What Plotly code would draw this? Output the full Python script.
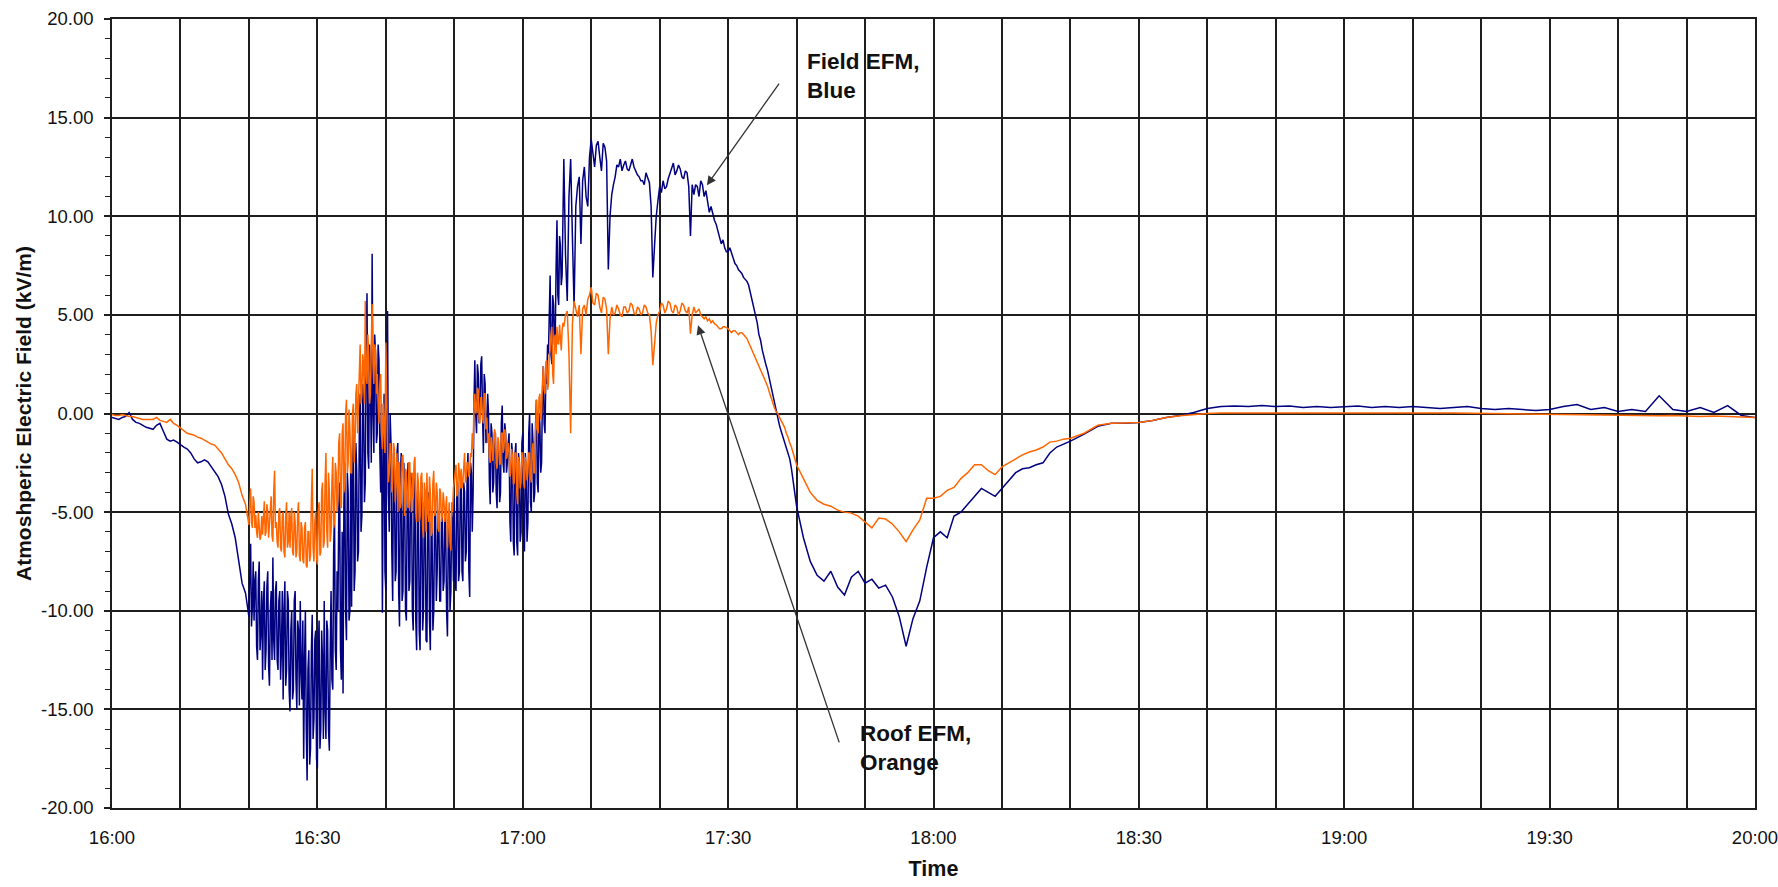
import numpy as np
import pandas as pd
import plotly.graph_objects as go

# readings in kV/m, time in minutes after 16:00
# Field EFM (blue)
field_a = [-0.2, -0.25, -0.3, -0.2, -0.15, 0.05, -0.3, -0.45, -0.5, -0.6,
           -0.7, -0.75, -0.8, -0.6, -0.5, -0.9, -1.3, -1.4, -1.35, -1.45,
           -1.6, -1.7, -1.8, -2.0, -2.3, -2.5, -2.45, -2.35, -2.45, -2.7,
           -3.0, -3.2, -3.6, -4.2, -5.1, -5.6, -6.3, -7.4, -8.6, -9.1]
field_b = [-10.3, -8.0, -6.6, -10.8, -9.8, -7.5, -10.5, -8.5,
           -8.0, -11.8, -12.5, -8.5, -7.5, -12.0, -11.0, -9.0,
           -13.5, -9.5, -8.5, -13.0, -12.0, -8.8, -8.0, -12.8,
           -13.8, -10.0, -9.0, -12.5, -7.3, -11.5, -12.5, -9.0,
           -8.5, -12.5, -13.0, -9.5, -9.0, -13.5, -12.0, -9.0,
           -14.5, -10.0, -8.5, -13.8, -13.0, -9.0, -9.5, -14.0,
           -15.1, -11.0, -10.0, -14.5, -14.0, -9.5, -9.0, -13.5,
           -15.0, -10.5, -11.0, -14.8, -9.5, -13.0, -14.5, -10.5,
           -17.5, -12.5, -10.0, -16.0, -18.6, -13.0, -12.0, -17.8,
           -17.0, -12.0, -10.2, -16.5, -15.5, -11.5, -11.0, -17.5,
           -18.0, -12.0, -10.5, -17.0, -16.0, -11.0, -12.5, -16.5,
           -9.5, -15.0, -16.5, -10.5, -11.0, -16.0, -17.1, -12.0,
           -9.0, -13.5, -14.0, -7.0, -5.0, -12.0, -13.0, -8.0,
           -10.0, -5.0, -3.5, -12.0, -13.5, -6.0, -14.2, -4.5,
           -2.5, -10.0, -11.5, -3.0, -4.0, -10.5, -10.0, -2.0,
           -9.8, -3.0, -1.0, -9.0, -8.0, -1.5, -3.0, -7.5,
           -7.0, -1.0, 1.0, -6.0, -5.2, 1.5, 0.5, -4.5,
           -3.5, 3.0, 6.1, -2.0, -2.8, 3.5, 2.0, -2.5,
           8.1, 0.0, -2.0, 4.0, 3.0, -1.5, -1.0, 3.5,
           2.7, -2.0, -4.0, 0.5, -10.1, -3.0, 1.0, -8.0,
           -9.0, -2.0, 5.2, -4.0, -6.0, 0.0, -1.5, -7.0,
           -9.5, -2.0, -3.0, -8.5, -8.0, -2.0, -1.5, -9.0,
           -10.8, -3.0, -2.0, -9.5, -9.0, -2.5, -4.0, -10.0,
           -10.5, -4.0, -2.5, -9.0, -8.5, -3.0, -3.5, -10.0,
           -11.0, -4.5, -3.0, -10.5, -12.0, -4.0, -4.0, -11.0,
           -12.0, -5.0, -3.5, -11.0, -10.0, -4.5, -5.0, -11.5,
           -11.6, -5.0, -4.0, -10.5, -12.0, -5.5, -6.0, -11.0,
           -10.0, -5.0, -4.5, -9.5, -8.0, -5.0, -5.5, -9.5,
           -9.5, -5.5, -5.0, -9.0, -8.5, -5.0, -6.0, -10.0,
           -11.3, -6.0, -5.0, -10.0, -9.0, -5.0, -5.5, -8.5,
           -4.3, -8.5, -9.0, -4.0, -3.5, -8.5, -8.0, -4.0,
           -3.0, -8.0, -8.5, -3.5, -4.0, -7.5, -7.0, -3.0,
           -2.0, -8.0, -9.3, -2.5, -3.0, -6.0, -4.0, 0.5,
           2.7, 0.0, -1.0, 2.5, 2.0, -0.5, 0.0, 2.5,
           2.9, 0.0, -2.0, 2.0, 1.5, -1.5, -1.0, 1.0,
           0.0, -3.5, -4.6, -0.5, -1.0, -4.0, -3.5, -1.0,
           -1.0, -4.0, -4.8, -1.5, -2.0, -4.5, -4.0, -0.5,
           0.4, -2.5, -3.0, -0.5, -1.0, -3.0, -2.5, -1.5,
           -1.0, -5.5, -6.5, -1.5, -2.0, -6.5, -7.2, -2.0,
           -1.5, -6.5, -7.2, -2.0, -2.5, -6.5, -6.0, -1.5,
           -1.0, -6.0, -7.0, -2.0, -3.0, -6.5, -5.5, -1.0,
           0.0, -4.5, -5.0, -0.5, -1.5, -4.5, -4.0, -0.5,
           0.7, -3.5, -4.0, 0.0, -0.5, -3.0, -2.5, 1.0,
           2.4, -0.5, -1.0, 2.0, 1.5, 3.5, 3.0, 5.0,
           7.0, 3.0, 2.5, 6.0, 5.5, 3.5, 4.0, 7.5,
           9.8, 6.0, 5.5, 9.0, 8.5, 6.5, 7.0, 10.0]
field_c = [12.9, 8.0, 5.7, 11.0, 12.9, 9.0, 5.4, 10.5, 11.5, 12.0,
           8.6, 11.8, 12.5, 11.0, 10.5, 13.0, 13.9, 13.2, 12.5, 13.6,
           13.8, 13.0, 12.3, 13.7, 13.5, 12.8, 7.3, 10.0, 11.1, 11.6,
           12.0, 12.6, 12.5, 12.9, 12.3, 12.6, 12.8, 12.4, 12.3, 12.6,
           12.9, 12.5, 12.3, 12.1, 12.0, 11.8, 11.8, 11.6, 12.2, 11.9,
           11.7, 10.5, 6.9, 8.5, 10.0, 10.8, 11.5, 11.2, 11.8, 11.4,
           11.5, 11.9, 12.2, 12.5, 12.7, 12.1, 12.3, 12.6, 12.4, 12.0,
           11.9, 12.3, 12.2, 11.5, 9.0, 11.6, 11.1, 11.6, 11.5, 11.0,
           11.8, 11.6, 11.0, 11.3, 10.8, 10.2, 10.5, 10.1, 9.8, 9.6,
           9.3, 8.9, 8.6, 8.8, 8.4, 8.2, 8.2, 8.4, 8.1, 7.8,
           7.6, 7.5, 7.3, 7.2, 7.1, 6.9, 6.8, 6.7, 6.5, 6.1,
           5.8, 5.4, 5.0, 4.6, 4.0, 3.7, 3.2, 2.8, 2.5, 2.2,
           1.8, 1.3, 0.9, 0.6, 0.2, -0.2, -0.6, -0.9, -1.2, -1.4,
           -1.7, -2.0, -2.3, -2.8, -3.5, -4.0]
field_d = [-4.7, -6.3, -7.5, -8.2, -8.5, -8.0, -8.8, -9.2, -8.3, -8.0,
           -8.6, -8.4, -8.85, -8.7, -9.3, -10.3, -11.8, -10.4, -9.5, -7.8,
           -6.3, -6.0, -6.3, -5.2, -5.0, -4.6, -4.2, -3.8, -4.0, -4.2,
           -3.8, -3.4, -3.0, -2.8, -2.75, -2.6, -2.5, -2.0, -1.7, -1.55,
           -1.4]
field_e = [-1.05, -0.65, -0.5, -0.5, -0.45, -0.35, -0.2, -0.1, 0.05, 0.25,
           0.35, 0.38, 0.35, 0.4, 0.35, 0.38, 0.3, 0.35, 0.3, 0.35,
           0.38, 0.3, 0.35, 0.3, 0.35, 0.3, 0.25, 0.3, 0.35, 0.25,
           0.2, 0.25, 0.2, 0.15, 0.2, 0.35, 0.45, 0.2, 0.3, 0.1,
           0.2, 0.1, 0.9, 0.2, 0.1, 0.3, 0.05, 0.4, -0.1, -0.2]

# Roof EFM (orange)
roof_a = [-0.05, -0.1, -0.1, -0.05, -0.1, -0.15, -0.15, -0.2, -0.25, -0.3,
          -0.3, -0.3, -0.3, -0.2, -0.35, -0.4, -0.45, -0.3, -0.5, -0.6,
          -0.75, -0.9, -1.0, -1.05, -1.1, -1.2, -1.25, -1.35, -1.45, -1.55,
          -1.6, -1.8, -2.0, -2.3, -2.6, -2.8, -3.1, -3.5, -4.15, -4.6]
roof_b = [-5.65, -4.5, -3.8, -5.5, -5.8, -4.2, -4.5, -5.8,
          -5.15, -6.0, -6.3, -5.0, -5.5, -6.4, -6.2, -5.2,
          -6.15, -5.0, -4.45, -6.2, -6.0, -4.6, -5.0, -6.3,
          -5.5, -4.5, -4.2, -6.2, -6.5, -4.0, -2.9, -5.8,
          -5.5, -6.5, -6.8, -5.0, -4.8, -6.8, -7.0, -5.2,
          -5.0, -7.0, -7.3, -5.2, -4.5, -6.8, -6.5, -5.0,
          -6.8, -5.2, -4.8, -7.0, -7.2, -5.0, -5.5, -7.3,
          -7.0, -5.0, -4.5, -7.2, -7.5, -5.5, -5.8, -7.4,
          -7.6, -5.8, -5.5, -7.7, -7.8, -6.0, -6.0, -7.5,
          -7.2, -4.5, -2.8, -6.8, -7.5, -5.5, -5.0, -7.3,
          -7.65, -5.0, -4.5, -7.2, -7.0, -4.0, -3.5, -6.8,
          -6.5, -3.5, -2.0, -6.0, -6.8, -3.0, -4.0, -6.5,
          -6.0, -3.5, -2.2, -5.8, -5.5, -2.5, -3.0, -5.0,
          -4.0, -1.5, -1.0, -4.5, -4.8, -1.0, -0.5, -4.0,
          -3.5, 0.0, 0.7, -3.0, -2.5, 0.2, -0.8, -3.0,
          -3.0, 0.0, 0.5, -2.5, -1.5, 1.0, 1.5, -1.0,
          0.7, 3.0, 3.5, 0.5, 1.0, 3.0, 2.5, 0.5,
          5.7, 2.0, 1.5, 4.0, 3.0, 0.5, 1.0, 3.5,
          5.55, 2.5, 1.5, 3.5, 3.2, 1.0, 2.0, 0.5,
          -0.5, 1.5, 2.0, -1.0, -1.8, 0.5, -0.5, -2.0,
          3.6, -1.0, -1.8, -3.5, -3.0, -1.5, -2.0, -4.0,
          -3.5, -1.5, -1.8, -4.5, -3.0, -2.0, -5.0, -2.5,
          -2.5, -4.8, -4.5, -2.2, -2.1, -4.5, -5.2, -2.8,
          -3.0, -4.5, -4.8, -2.5, -2.5, -4.2, -5.0, -3.0,
          -4.3, -2.5, -2.2, -5.0, -5.5, -3.0, -3.5, -5.5,
          -5.2, -3.2, -3.0, -5.8, -6.3, -3.5, -4.0, -6.0,
          -3.0, -5.0, -5.5, -3.2, -4.0, -6.2, -6.0, -3.5,
          -2.9, -5.2, -5.0, -3.5, -4.0, -5.8, -6.0, -3.8,
          -4.0, -5.5, -5.2, -4.0, -4.5, -5.5, -5.0, -4.2,
          -6.8, -4.8, -4.5, -6.5, -6.95, -4.5, -5.0, -3.8,
          -3.5, -3.0, -2.6, -4.2, -4.0, -2.5, -3.0, -3.8,
          -2.8, -3.8, -3.5, -2.2, -2.0, -3.5, -3.2, -2.5,
          -2.5, -3.2, -3.0, -2.0, -2.2, -1.0, -1.8, 0.5,
          1.0, 0.0, 0.2, 1.3, 1.2, -0.2, -0.5, 0.8,
          0.8, -0.2, -0.5, 1.0, 1.0, -0.8, -0.2, -1.5,
          -1.0, -2.2, -2.5, -1.2, -1.5, -2.4, -2.0, -0.8,
          -1.0, -2.5, -2.8, -1.2, -1.5, -2.6, -2.5, -1.0,
          -1.0, -2.0, -1.8, -0.8, -1.2, -2.3, -2.1, -1.5,
          -1.8, -3.2, -3.0, -1.8, -2.2, -3.6, -3.5, -2.0,
          -2.0, -4.0, -4.6, -2.2, -2.5, -3.8, -3.5, -2.0,
          -2.0, -3.5, -3.8, -2.2, -2.5, -3.4, -3.0, -2.0,
          -2.0, -3.2, -3.5, -1.8, -1.5, -3.0, -3.0, -1.0,
          0.7, -0.8, -1.0, 0.8, 1.0, -0.3, 0.0, 1.5,
          2.4, 1.2, 1.0, 2.6, 2.7, 1.2, 1.5, 3.0,
          3.2, 4.0, 4.4, 2.0, 1.5, 3.8, 4.0, 3.0,
          4.4, 3.6, 3.5, 4.5, 4.0, 3.2, 4.2, 4.6]
roof_c = [4.4, 5.0, 5.2, 3.0, -1.0, 4.5, 5.7, 5.2, 4.9, 5.5,
          3.0, 5.3, 5.5, 5.0, 5.8, 6.0, 6.4, 5.6, 5.5, 6.1,
          6.0, 5.4, 5.1, 5.9, 5.8, 5.3, 3.0, 4.8, 5.4, 5.0,
          5.1, 5.5, 5.3, 5.0, 4.9, 5.4, 5.4, 5.1, 5.2, 5.6,
          5.5, 5.1, 5.0, 5.4, 5.3, 5.0, 5.1, 5.5, 5.4, 5.1,
          5.0, 4.2, 2.45, 3.5, 4.6, 5.0, 5.2, 5.6, 5.5, 5.1,
          5.3, 5.7, 5.6, 5.2, 5.1, 5.5, 5.4, 5.0, 5.2, 5.6,
          5.5, 5.2, 5.1, 5.4, 4.05, 5.0, 5.4, 5.1, 5.2, 5.3,
          5.0, 4.9, 4.8, 4.9, 4.7, 4.8, 4.6, 4.7, 4.55, 4.5,
          4.4, 4.3, 4.3, 4.4, 4.4, 4.35, 4.3, 4.2, 4.1, 4.2,
          4.2, 4.1, 4.0, 4.1, 4.1, 4.0, 3.9, 3.8, 3.6, 3.4,
          3.2, 3.0, 2.8, 2.6, 2.4, 2.2, 2.0, 1.8, 1.6, 1.4,
          1.1, 0.8, 0.6, 0.3, 0.1, 0.0, -0.2, -0.35, -0.5, -0.7,
          -1.0, -1.2, -1.5, -1.7, -2.0, -2.3]
roof_d = [-2.6, -3.3, -4.0, -4.4, -4.6, -4.7, -4.9, -5.0, -5.05, -5.2,
          -5.5, -5.8, -5.3, -5.35, -5.6, -6.0, -6.5, -5.9, -5.4, -4.3,
          -4.3, -4.2, -3.9, -3.75, -3.3, -3.0, -2.6, -2.6, -2.9, -3.1,
          -2.7, -2.5, -2.3, -2.1, -1.95, -1.85, -1.7, -1.45, -1.4, -1.3,
          -1.25]
roof_e = [-1.0, -0.6, -0.5, -0.48, -0.45, -0.35, -0.2, -0.12, -0.05, 0.0,
          0.02, 0.03, 0.02, 0.04, 0.03, 0.02, 0.04, 0.03, 0.02, 0.03,
          0.04, 0.02, 0.03, 0.02, 0.03, 0.02, 0.03, 0.02, 0.01, 0.02,
          0.0, -0.02, -0.03, -0.05, -0.04, -0.06, -0.05, -0.08, -0.07, -0.1,
          -0.08, -0.1, -0.12, -0.1, -0.12, -0.15, -0.13, -0.15, -0.18, -0.2]

# segment start (min) and sampling step (min)
seg_start = [0, 20, 66, 100, 142]
seg_step = [0.5, 0.125, 0.25, 1, 2]

# y axis ticks as printed on the chart
y_ticks = [-20, -15, -10, -5, 0, 5, 10, 15, 20]
y_labels = ["-20.00", "-15.00", "-10.00", "-5.00", "0.00", "5.00", "10.00", "15.00", "20.00"]


def build(parts):
    t, v = [], []
    for vals, s0, ds in zip(parts, seg_start, seg_step):
        t.extend(s0 + ds * np.arange(len(vals)))
        v.extend(vals)
    base = pd.Timestamp("2000-01-01 16:00")
    return base + pd.to_timedelta(np.array(t), unit="min"), v


field_t, field_v = build([field_a, field_b, field_c, field_d, field_e])
roof_t, roof_v = build([roof_a, roof_b, roof_c, roof_d, roof_e])


def tm(m):
    return pd.Timestamp("2000-01-01 16:00") + pd.Timedelta(minutes=m)


grid = "#1e1e1e"
font_txt = "Liberation Sans, Arial, sans-serif"

fig = go.Figure()
fig.add_trace(go.Scatter(x=field_t, y=field_v, mode="lines", name="Field EFM",
                         line=dict(color="#000080", width=1.5)))
fig.add_trace(go.Scatter(x=roof_t, y=roof_v, mode="lines", name="Roof EFM",
                         line=dict(color="#FF6600", width=1.5)))

fig.update_layout(
    width=1778, height=887,
    margin=dict(l=112, r=23, t=19, b=79),
    plot_bgcolor="white", paper_bgcolor="white",
    showlegend=False,
    font=dict(family=font_txt, color="#111111", size=18.5),
)
fig.update_xaxes(
    type="date", automargin=False,
    range=[tm(0), tm(240)],
    tick0=tm(0), dtick=30 * 60 * 1000, tickformat="%H:%M",
    ticklabeloverflow="allow",
    showgrid=True, gridcolor=grid, gridwidth=1.6,
    minor=dict(dtick=10 * 60 * 1000, showgrid=True, gridcolor=grid, gridwidth=1.6),
    ticks="", ticklabelstandoff=12,
    showline=True, mirror=True, linecolor=grid, linewidth=1.6,
    zeroline=False,
    title=dict(text="<b>Time</b>", font=dict(size=21.5), standoff=14),
)
fig.update_yaxes(
    automargin=False,
    range=[-20, 20], tickvals=y_ticks, ticktext=y_labels,
    showgrid=True, gridcolor=grid, gridwidth=1.6,
    ticks="outside", ticklen=6, tickcolor=grid, tickwidth=1.6,
    ticklabelstandoff=7,
    minor=dict(dtick=1, ticks="outside", ticklen=5, tickcolor=grid, tickwidth=1.4, showgrid=False),
    showline=True, mirror=True, linecolor=grid, linewidth=1.6,
    zeroline=False,
    title=dict(text="<b>Atmoshperic Electric Field (kV/m)</b>", font=dict(size=21), standoff=4),
)

# labels with arrows
fig.add_annotation(x=tm(86.9), y=11.57, ax=tm(97.6), ay=16.8, axref="x", ayref="y",
                   text="", showarrow=True, arrowhead=2, arrowsize=1.4,
                   arrowwidth=1.3, arrowcolor="#333333")
fig.add_annotation(x=tm(85.6), y=4.47, ax=tm(106.3), ay=-16.75, axref="x", ayref="y",
                   text="", showarrow=True, arrowhead=2, arrowsize=1.4,
                   arrowwidth=1.3, arrowcolor="#333333")
fig.add_annotation(x=tm(101.2), y=18.6, xanchor="left", yanchor="top", align="left",
                   text="<b>Field EFM,<br>Blue</b>", showarrow=False,
                   font=dict(size=22.5, color="#111111"))
fig.add_annotation(x=tm(109.0), y=-15.5, xanchor="left", yanchor="top", align="left",
                   text="<b>Roof EFM,<br>Orange</b>", showarrow=False,
                   font=dict(size=22.5, color="#111111"))

# drop the page's default body margin so the figure fills the window
fig.write_html("out.html", config={"displayModeBar": False},
               post_script="document.body.style.margin = '0'; document.body.style.overflow = 'hidden';")
